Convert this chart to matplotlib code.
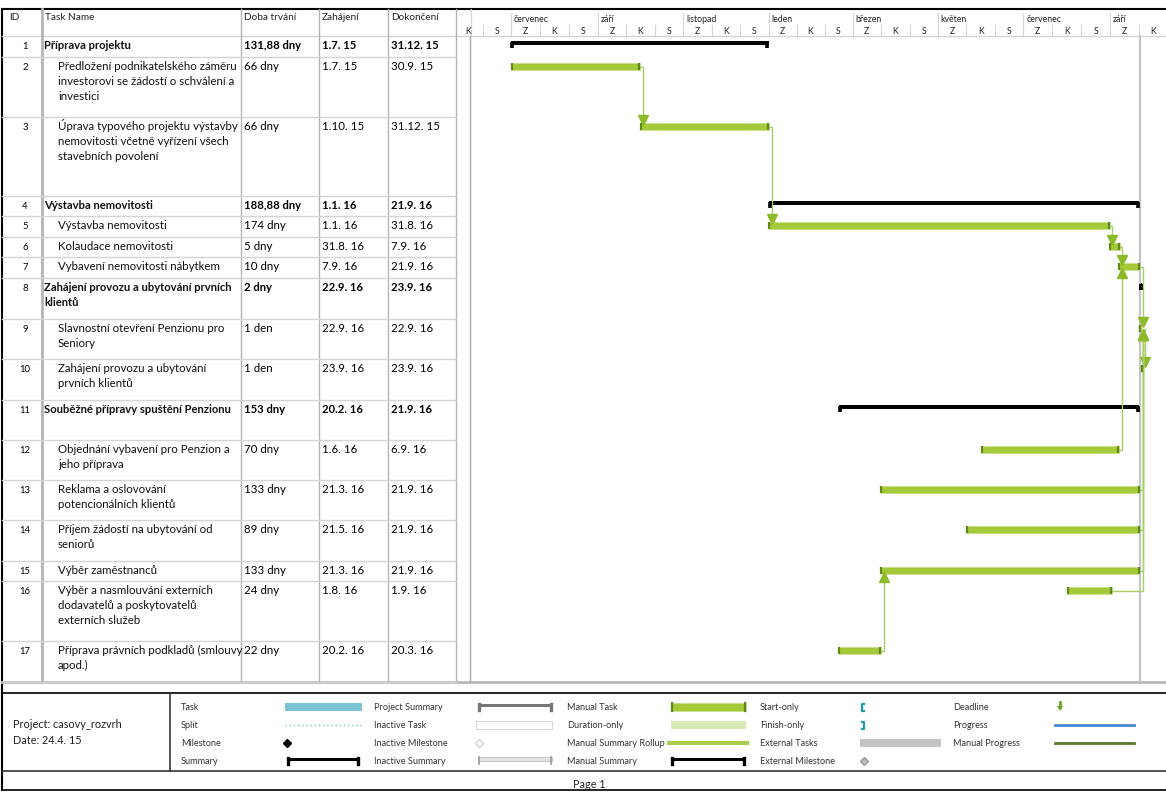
import datetime as dt
import numpy as np
import matplotlib

# Use non-interactive backend
matplotlib.use("Agg")

import matplotlib.pyplot as plt
import matplotlib.dates as mdates
from matplotlib.patches import Rectangle, Polygon

plt.rcParams["font.family"] = ["Lato", "DejaVu Sans"]

# ------------------ data ------------------

task_ids = list(range(1, 18))

task_names = [
    "Příprava projektu",
    "Předložení podnikatelského záměru\ninvestorovi se žádostí o schválení a\ninvestici",
    "Úprava typového projektu výstavby\nnemovitosti včetně vyřízení všech\nstavebních povolení",
    "Výstavba nemovitosti",
    "Výstavba nemovitosti",
    "Kolaudace nemovitosti",
    "Vybavení nemovitosti nábytkem",
    "Zahájení provozu a ubytování prvních\nklientů",
    "Slavnostní otevření Penzionu pro\nSeniory",
    "Zahájení provozu a ubytování\nprvních klientů",
    "Souběžné přípravy spuštění Penzionu",
    "Objednání vybavení pro Penzion a\njeho příprava",
    "Reklama a oslovování\npotencionálních klientů",
    "Příjem žádostí na ubytování od\nseniorů",
    "Výběr zaměstnanců",
    "Výběr a nasmlouvání externích\ndodavatelů a poskytovatelů\nexterních služeb",
    "Příprava právních podkladů (smlouvy\napod.)",
]

durations = [
    "131,88 dny", "66 dny", "66 dny", "188,88 dny", "174 dny", "5 dny",
    "10 dny", "2 dny", "1 den", "1 den", "153 dny", "70 dny", "133 dny",
    "89 dny", "133 dny", "24 dny", "22 dny",
]

starts = [
    "1.7. 15", "1.7. 15", "1.10. 15", "1.1. 16", "1.1. 16", "31.8. 16",
    "7.9. 16", "22.9. 16", "22.9. 16", "23.9. 16", "20.2. 16", "1.6. 16",
    "21.3. 16", "21.5. 16", "21.3. 16", "1.8. 16", "20.2. 16",
]

finishes = [
    "31.12. 15", "30.9. 15", "31.12. 15", "21.9. 16", "31.8. 16", "7.9. 16",
    "21.9. 16", "23.9. 16", "22.9. 16", "23.9. 16", "21.9. 16", "6.9. 16",
    "21.9. 16", "21.9. 16", "21.9. 16", "1.9. 16", "20.3. 16",
]

summary_ids = [1, 4, 8, 11]

# predecessor -> successor
links = [
    (2, 3), (3, 5), (5, 6), (6, 7), (7, 9), (9, 10), (12, 7),
    (13, 9), (14, 9), (15, 9), (16, 9), (17, 15),
]

top_tier_dates = [
    "1.7. 15", "1.9. 15", "1.11. 15", "1.1. 16", "1.3. 16",
    "1.5. 16", "1.7. 16", "1.9. 16",
]
top_tier_labels = [
    "červenec", "září", "listopad", "leden", "březen",
    "květen", "červenec", "září",
]
bottom_tier_labels = ["Z", "K", "S"]

marker_line_date = "2.6. 15"
finish_line_date = "22.9. 16"

header_labels = ["ID", "Task Name", "Doba trvání", "Zahájení", "Dokončení"]

legend_rows = [
    ["Task", "Split", "Milestone", "Summary"],
    ["Project Summary", "Inactive Task", "Inactive Milestone", "Inactive Summary"],
    ["Manual Task", "Duration-only", "Manual Summary Rollup", "Manual Summary"],
    ["Start-only", "Finish-only", "External Tasks", "External Milestone"],
    ["Deadline", "Progress", "Manual Progress"],
]

project_info = ["Project: casovy_rozvrh", "Date: 24.4. 15"]

# ------------------ layout ------------------

W, H = 1166, 792
row_heights = [21, 60, 79, 20, 21, 20, 21, 41, 40, 41, 40, 40, 40, 41, 20, 60, 41]
table_top = 36
row_tops = table_top + np.concatenate([[0], np.cumsum(row_heights)[:-1]])
table_bottom = table_top + sum(row_heights)

col_lines = [42, 241, 319, 388, 456]
gantt_left = 457

GREEN = "#A6C93A"
GREEN_DARK = "#5F8A1A"
GREEN_EDGE = "#C8DF8E"
LINK = "#A8CF66"
ARROW = "#8DBA2A"
GRID = "#D4D4D4"


def parse_date(s):
    d, m, y = [p.strip() for p in s.split(".")]
    return dt.date(2000 + int(y), int(m), int(d))


def dnum(s):
    return mdates.date2num(parse_date(s))


fig = plt.figure(figsize=(W / 100, H / 100), dpi=100)

# frame axes in pixel units (table, borders, legend)
frame = fig.add_axes([0, 0, 1, 1])
frame.set_xlim(0, W)
frame.set_ylim(H, 0)
frame.axis("off")

# borders
frame.plot([2, W], [9, 9], color="black", lw=1.5)
frame.plot([2, 2], [9, H - 2], color="black", lw=1.5)
frame.plot([2, W], [H - 2, H - 2], color="black", lw=1.2)
frame.plot([2, W], [table_top, table_top], color=GRID, lw=1)
frame.plot([2, W], [table_bottom, table_bottom], color="#B8B8B8", lw=2)
frame.plot([2, W], [693, 693], color="black", lw=1.2)
frame.plot([2, W], [771, 771], color="#333333", lw=1.2)
frame.plot([170, 170], [693, 771], color="#333333", lw=1.2)

# column lines
for i, cx in enumerate(col_lines):
    frame.plot([cx, cx], [9, table_bottom], color="#B4B4B4",
               lw=2 if i == 0 else 1)
frame.plot([gantt_left + 14, gantt_left + 14], [9, table_top], color=GRID, lw=0.8)

# header
header_x = [9, 45, 244, 322, 391]
for hx, lab in zip(header_x, header_labels):
    frame.text(hx, 18, lab, fontsize=7.2, va="center", ha="left", color="#222222")

# rows
for i, tid in enumerate(task_ids):
    top = row_tops[i]
    frame.plot([2, gantt_left - 1], [top + row_heights[i]] * 2, color=GRID, lw=1)
    bold = tid in summary_ids
    weight = "bold" if bold else "normal"
    size = 8.1 if bold else 8.3
    base = top + 13
    frame.text(25, base, str(tid), fontsize=6.8, ha="center", va="baseline")
    name_x = 44 if bold else 58
    for k, line in enumerate(task_names[i].split("\n")):
        frame.text(name_x, base + 15 * k, line, fontsize=size, weight=weight,
                   va="baseline", color="#111111")
    frame.text(244, base, durations[i], fontsize=size, weight=weight, va="baseline")
    frame.text(322, base, starts[i], fontsize=size, weight=weight, va="baseline")
    frame.text(391, base, finishes[i], fontsize=size, weight=weight, va="baseline")

# ------------------ gantt axes ------------------

origin = dt.date(2015, 7, 1)
px_per_day = 1.4
x0_px = 511
view_start = mdates.date2num(origin) - (x0_px - gantt_left) / px_per_day
view_end = mdates.date2num(origin) + (W - x0_px) / px_per_day

gantt = fig.add_axes([gantt_left / W, (H - table_bottom) / H,
                      (W - gantt_left) / W, (table_bottom - 9) / H])
gantt.set_xlim(view_start, view_end)
gantt.set_ylim(table_bottom, 9)
gantt.axis("off")
gantt.patch.set_alpha(0)

# timescale: top tier (two-month periods) and bottom tier (thirds)
tier_starts = [mdates.date2num(dt.date(2015, 5, 1))] + [dnum(d) for d in top_tier_dates] \
    + [mdates.date2num(dt.date(2016, 11, 1))]
for j in range(len(tier_starts) - 1):
    a, b = tier_starts[j], tier_starts[j + 1]
    if 0 < j < len(tier_starts) - 1:
        gantt.plot([a, a], [13, table_top], color=GRID, lw=0.8)
        gantt.text(a + 2, 19, top_tier_labels[j - 1], fontsize=6.3, va="center",
                   color="#222222")
    for k in range(3):
        ca = a + (b - a) * k / 3
        cb = a + (b - a) * (k + 1) / 3
        if k > 0:
            gantt.plot([ca, ca], [25, table_top], color=GRID, lw=0.8)
        cm = (ca + cb) / 2
        if view_start + 6 < cm < view_end - 4:
            gantt.text(cm, 31, bottom_tier_labels[k], fontsize=6.3, ha="center",
                       va="center", color="#222222")

# reference lines
gantt.plot([dnum(marker_line_date)] * 2, [table_top, table_bottom], color="#A8A8A8", lw=1)
gantt.plot([dnum(finish_line_date)] * 2, [table_top, table_bottom], color="#C6C6C6", lw=1.6)

start_num = np.array([dnum(s) for s in starts])
end_num = np.array([dnum(f) + 1 for f in finishes])
bar_y = row_tops + 9.5
cap = 1.2  # cap width in days

# links first (under bars)
for pred, succ in links:
    p, s = pred - 1, succ - 1
    xe, yp = end_num[p], bar_y[p]
    xs, ys = start_num[s], bar_y[s]
    xv = max(xe + 1.5, xs + 2.5)
    if ys > yp:
        tip = ys - 4
        gantt.plot([xe, xv, xv], [yp, yp, tip - 3], color=LINK, lw=1)
        gantt.plot(xv, tip - 2.5, marker="v", ms=6.5, color=ARROW, mec=ARROW)
    else:
        tip = ys + 4
        gantt.plot([xe, xv, xv], [yp, yp, tip + 3], color=LINK, lw=1)
        gantt.plot(xv, tip + 2.5, marker="^", ms=6.5, color=ARROW, mec=ARROW)

# bars
for i, tid in enumerate(task_ids):
    x0, x1, y = start_num[i], end_num[i], bar_y[i]
    if tid in summary_ids:
        gantt.barh(y - 2.5, x1 - x0, left=x0, height=3.2, color="black", lw=0)
        gantt.vlines([x0 + 0.9, x1 - 0.9], y - 4, y + 2.5, color="black", lw=2.6)
    else:
        gantt.barh(y, x1 - x0, left=x0, height=7.5, color=GREEN,
                   edgecolor=GREEN_EDGE, lw=0.6)
        gantt.vlines([x0 + cap / 2, x1 - cap / 2], y - 3.7, y + 3.7,
                     color=GREEN_DARK, lw=1.6)

# ------------------ legend ------------------

leg_y = [707, 725, 743, 761]
label_x = [181, 374, 567, 760, 953]
for col, items in enumerate(legend_rows):
    for r, lab in enumerate(items):
        frame.text(label_x[col], leg_y[r], lab, fontsize=6.6, va="center",
                   color="#333333")

for k, line in enumerate(project_info):
    frame.text(13, 725 + 16 * k, line, fontsize=7.8, va="center", color="#222222")
frame.text(589, 785, "Page 1", fontsize=7.8, ha="center", va="center", color="#222222")


def bracket(ax, xa, xb, y, color):
    ax.add_patch(Rectangle((xa, y - 3), xb - xa, 3, color=color, lw=0))
    ax.plot([xa + 1, xa + 1], [y - 3, y + 3], color=color, lw=2.4)
    ax.plot([xb - 1, xb - 1], [y - 3, y + 3], color=color, lw=2.4)


# column 1
frame.add_patch(Rectangle((285, 703), 77, 8, color="#7CC1D4", lw=0))
frame.plot([285, 362], [725, 725], color="#7CC1D4", lw=1, ls=(0, (1, 2)))
frame.plot(287, 743, marker="D", ms=4.5, color="black")
bracket(frame, 287, 359, 761, "black")

# column 2
bracket(frame, 478, 552, 707, "#777777")
frame.add_patch(Rectangle((476, 721), 76, 8, facecolor="white", edgecolor="#D8D8D8", lw=0.8))
frame.plot(479, 743, marker="D", ms=4, mfc="white", mec="#D0D0D0")
frame.add_patch(Rectangle((478, 757), 74, 4, facecolor="#E2E2E2", edgecolor="#BDBDBD", lw=0.6))
frame.plot([479, 479], [757, 764], color="#999999", lw=1.2)
frame.plot([551, 551], [757, 764], color="#999999", lw=1.2)

# column 3
frame.add_patch(Rectangle((671, 703), 75, 8, facecolor=GREEN, edgecolor=GREEN_EDGE, lw=0.6))
frame.plot([672, 672], [703, 711], color=GREEN_DARK, lw=1.6)
frame.plot([745, 745], [703, 711], color=GREEN_DARK, lw=1.6)
frame.add_patch(Rectangle((671, 721), 75, 8, color="#D9E9B6", lw=0))
frame.add_patch(Rectangle((667, 741), 82, 4, color="#A9CC4A", lw=0))
bracket(frame, 671, 745, 761, "black")

# column 4
frame.plot([864, 862, 862, 864], [704, 704, 711, 711], color="#1F9DA6", lw=1.6)
frame.plot([862, 864, 864, 862], [722, 722, 729, 729], color="#1F9DA6", lw=1.6)
frame.add_patch(Rectangle((860, 739), 81, 8, color="#C4C4C4", lw=0))
frame.plot(864, 761, marker="D", ms=4, mfc="#BBBBBB", mec="#8C8C8C", mew=0.8)

# column 5
frame.add_patch(Polygon([[1057, 706], [1063, 706], [1060, 711]], color="#6CA52A", lw=0))
frame.plot([1060, 1060], [702, 707], color="#6CA52A", lw=2)
frame.plot([1055, 1134], [725, 725], color="#4A86D6", lw=2)
frame.plot([1055, 1134], [743, 743], color="#5A7A2A", lw=2)

fig.savefig("out.png", dpi=100)
plt.close(fig)
